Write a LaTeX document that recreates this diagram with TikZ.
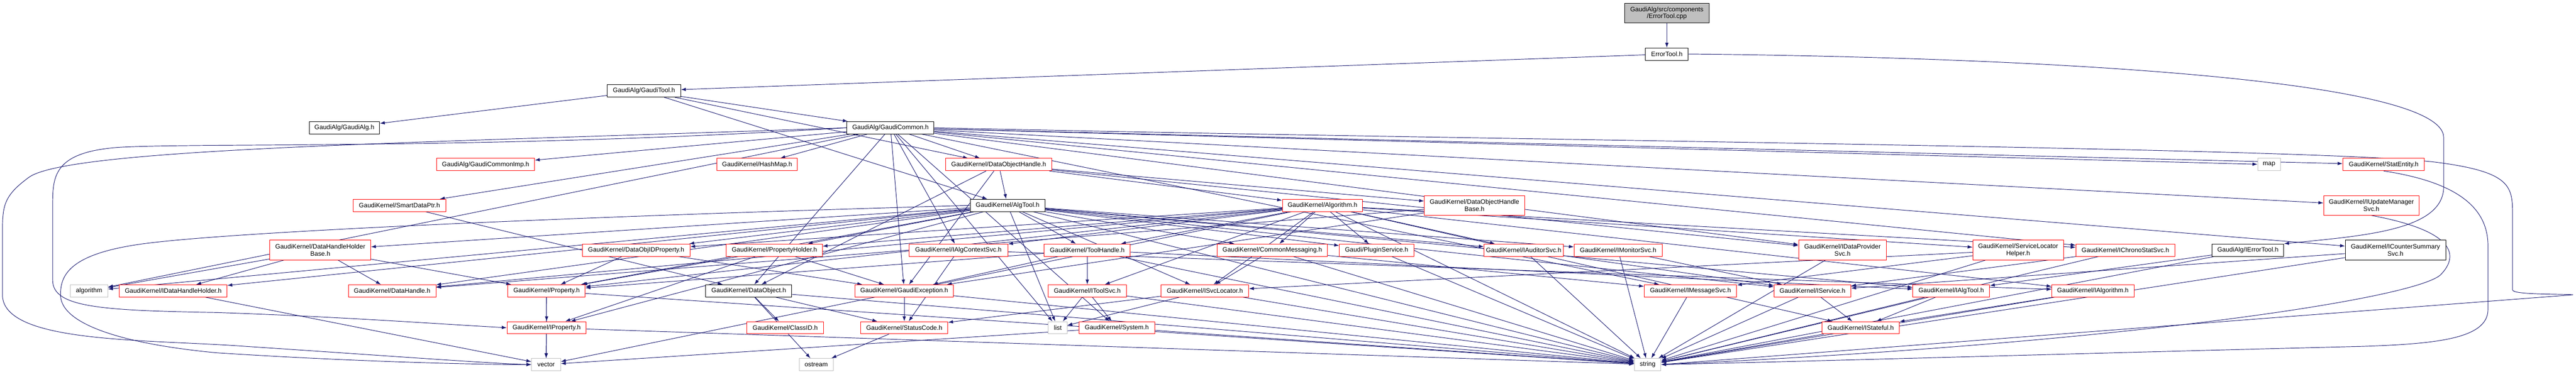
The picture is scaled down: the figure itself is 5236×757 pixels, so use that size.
\documentclass[tikz,border=0pt]{standalone}
\usepackage{fontspec}
\setmainfont{Liberation Sans}
\usepackage{tikz}
\usetikzlibrary{shapes,arrows.meta}

\definecolor{edgeblue}{HTML}{191970}
\definecolor{sysgray}{HTML}{BFBFBF}
\pgfdeclarelayer{background}
\pgfsetlayers{background,main}
\newcommand{\hdrfont}{\fontsize{13}{14.6}\selectfont}

\tikzset{
  hdr/.style={draw=red,fill=white,line width=1pt,font=\hdrfont,align=center,
    minimum height=25pt,inner xsep=4pt,inner ysep=0pt},
  blk/.style={hdr,draw=black},
  sys/.style={hdr,draw=sysgray},
  twoline/.style={minimum height=40pt},
  rootbox/.style={blk,fill=sysgray,twoline},
  edgeline/.style={draw=edgeblue,line width=1pt}
}

\begin{document}
\begin{tikzpicture}[x=1pt,y=-1pt,->,>={Latex[length=10pt,width=7pt]},
  every edge/.style={edgeline}
]
\useasboundingbox (0,0) rectangle (5236,757);

% top of the graph
\node[rootbox,minimum width=172pt] (root) at (3388,27) {GaudiAlg/src/components\\/ErrorTool.cpp};
\node[blk,minimum width=87pt] (errh) at (3388,110) {ErrorTool.h};
\node[blk,minimum width=149pt] (gtool) at (1309,185) {GaudiAlg/GaudiTool.h};
\node[blk,minimum width=143pt] (galg) at (700,260) {GaudiAlg/GaudiAlg.h};
\node[blk,minimum width=177pt] (gcom) at (1810,260) {GaudiAlg/GaudiCommon.h};

% row 5
\node[hdr,minimum width=199pt] (gcimp) at (987,335) {GaudiAlg/GaudiCommonImp.h};
\node[hdr,minimum width=164pt] (hashmap) at (1539,335) {GaudiKernel/HashMap.h};
\node[hdr,minimum width=215pt] (doh) at (2030,335) {GaudiKernel/DataObjectHandle.h};
\node[sys,minimum width=46pt] (map) at (4612,335) {map};
\node[hdr,minimum width=166pt] (statent) at (4845,335) {GaudiKernel/StatEntity.h};

% row 6
\node[hdr,minimum width=188pt] (smartptr) at (812,418) {GaudiKernel/SmartDataPtr.h};
\node[blk,minimum width=152pt] (algtool) at (2048,418) {GaudiKernel/AlgTool.h};
\node[hdr,minimum width=163pt] (algh) at (2688,418) {GaudiKernel/Algorithm.h};
\node[hdr,twoline,minimum width=204pt] (dohb) at (2997,418) {GaudiKernel/DataObjectHandle\\Base.h};
\node[hdr,twoline,minimum width=194pt] (iupd) at (4820,418) {GaudiKernel/IUpdateManager\\Svc.h};

% row 7
\node[hdr,twoline,minimum width=205pt] (dhhb) at (651,509) {GaudiKernel/DataHandleHolder\\Base.h};
\node[hdr,minimum width=219pt] (idop) at (1293,509) {GaudiKernel/DataObjIDProperty.h};
\node[hdr,minimum width=195pt] (propholder) at (1574,509) {GaudiKernel/PropertyHolder.h};
\node[hdr,minimum width=201pt] (iacs) at (1948,509) {GaudiKernel/IAlgContextSvc.h};
\node[hdr,minimum width=175pt] (toolhandle) at (2210,509) {GaudiKernel/ToolHandle.h};
\node[hdr,minimum width=225pt] (commsg) at (2586,509) {GaudiKernel/CommonMessaging.h};
\node[hdr,minimum width=151pt] (plugin) at (2798,509) {Gaudi/PluginService.h};
\node[hdr,minimum width=157pt] (iaud) at (3097,509) {GaudiKernel/IAuditorSvc.h};
\node[hdr,minimum width=179pt] (imon) at (3289,509) {GaudiKernel/IMonitorSvc.h};
\node[hdr,twoline,minimum width=178pt] (idps) at (3745,509) {GaudiKernel/IDataProvider\\Svc.h};
\node[hdr,twoline,minimum width=184pt] (slh) at (4102,509) {GaudiKernel/ServiceLocator\\Helper.h};
\node[hdr,minimum width=201pt] (ichrono) at (4320,509) {GaudiKernel/IChronoStatSvc.h};
\node[blk,minimum width=146pt] (ierr) at (4569,509) {GaudiAlg/IErrorTool.h};
\node[blk,twoline,minimum width=204pt] (icsum) at (4869,509) {GaudiKernel/ICounterSummary\\Svc.h};

% row 8
\node[sys,minimum width=76pt] (algo) at (181,592) {algorithm};
\node[hdr,minimum width=219pt] (idhh) at (352,592) {GaudiKernel/IDataHandleHolder.h};
\node[hdr,minimum width=178pt] (datahandle) at (797,592) {GaudiKernel/DataHandle.h};
\node[hdr,minimum width=157pt] (property) at (1111,592) {GaudiKernel/Property.h};
\node[blk,minimum width=175pt] (dataobj) at (1522,592) {GaudiKernel/DataObject.h};
\node[hdr,minimum width=200pt] (gexc) at (1838,592) {GaudiKernel/GaudiException.h};
\node[hdr,minimum width=160pt] (itoolsvc) at (2210,592) {GaudiKernel/IToolSvc.h};
\node[hdr,minimum width=178pt] (isvcloc) at (2449,592) {GaudiKernel/ISvcLocator.h};
\node[hdr,minimum width=188pt] (imsg) at (3436,592) {GaudiKernel/IMessageSvc.h};
\node[hdr,minimum width=156pt] (iservice) at (3684,592) {GaudiKernel/IService.h};
\node[hdr,minimum width=156pt] (ialgtool) at (3966,592) {GaudiKernel/IAlgTool.h};
\node[hdr,minimum width=167pt] (ialgo) at (4254,592) {GaudiKernel/IAlgorithm.h};

% row 9
\node[hdr,minimum width=161pt] (iprop) at (1111,667) {GaudiKernel/IProperty.h};
\node[hdr,minimum width=156pt] (classid) at (1596,667) {GaudiKernel/ClassID.h};
\node[hdr,minimum width=177pt] (statcode) at (1838,667) {GaudiKernel/StatusCode.h};
\node[sys,minimum width=38pt] (list) at (2150,667) {list};
\node[hdr,minimum width=154pt] (system) at (2270,667) {GaudiKernel/System.h};
\node[hdr,minimum width=157pt] (istateful) at (3782,667) {GaudiKernel/IStateful.h};

% bottom row
\node[sys,minimum width=59pt] (vector) at (1110,742) {vector};
\node[sys,minimum width=69pt] (ostream) at (1659,742) {ostream};
\node[sys,minimum width=54pt] (string) at (3349,742) {string};

\begin{pgfonlayer}{background}
\path (root) edge (errh);
\path (errh) edge (gtool);
\path (gtool) edge (galg) edge (gcom) edge (doh) edge (algtool);
\path (gcom) edge (gcimp) edge (hashmap) edge (doh) edge (smartptr) edge (map)
  edge (statent) edge (iupd) edge (iacs) edge (ichrono) edge (icsum) edge (idps)
  edge (imsg) edge (dataobj) edge (gexc) edge (system) edge (list) edge (algo);
\path (doh) edge (algtool) edge (algh) edge (dohb) edge (gexc) edge (dataobj) edge (idps);
\path (smartptr) edge (dataobj);
\path (algtool) edge (dhhb) edge (idop) edge (propholder) edge (toolhandle) edge (commsg)
  edge (plugin) edge (iaud) edge (imon) edge (idhh) edge (datahandle) edge (property)
  edge (ialgtool) edge (iservice) edge (isvcloc) edge (iprop) edge (list)
  edge (string) edge (algo);
\path (algh) edge (idop) edge (propholder) edge (iacs) edge (toolhandle) edge (commsg)
  edge (plugin) edge (iaud) edge (slh) edge (ichrono) edge (datahandle) edge (property)
  edge (itoolsvc) edge (isvcloc) edge (ialgo) edge (istateful) edge (string) edge (vector);
\path (dohb) edge (datahandle) edge (gexc);
\path (icsum) edge (iservice) edge (string);
\path (ierr) edge (ialgtool) edge (string);
\path (ichrono) edge (iservice) edge (string);
\path (slh) edge (imsg) edge (isvcloc) edge (string);
\path (idps) edge (string);
\path (imon) edge (iservice) edge (string);
\path (iaud) edge (iservice) edge (string);
\path (plugin) edge (string);
\path (commsg) edge (isvcloc) edge (imsg) edge (string);
\path (toolhandle) edge (itoolsvc) edge (ialgtool) edge (gexc) edge (property) edge (string);
\path (itoolsvc) edge (system) edge (list) edge (string);
\path (isvcloc) edge (statcode) edge (list) edge (string);
\path (iacs) edge (ialgo) edge (statcode);
\path (propholder) edge (property) edge (iprop) edge (gexc);
\path (idop) edge (property) edge (gexc);
\path (dhhb) edge (algo) edge (idhh) edge (datahandle) edge (property);
\path (idhh) edge (vector);
\path (property) edge (iprop) edge (string) edge (vector);
\path (dataobj) edge (classid) edge (ostream) edge (statcode) edge (string);
\path (gexc) edge (statcode) edge (string);
\path (imsg) edge (string);
\path (iservice) edge (istateful) edge (string);
\path (ialgtool) edge (istateful) edge (string);
\path (ialgo) edge (istateful) edge (string);
\path (system) edge (string) edge (vector);
\path (statcode) edge (ostream);
\path (istateful) edge (string);
\path (iprop) edge (vector) edge (string);

% long edges routed round the sides
\draw[edgeline] (errh.east) .. controls (4000,115) and (4967,150) .. (4967,280)
  -- (4967,380) .. controls (4967,470) and (4800,480) .. (ierr.north east);
\draw[edgeline] (gcom.west) .. controls (900,290) and (150,300) .. (60,360)
  .. controls (5,400) and (5,420) .. (5,480) -- (5,600)
  .. controls (5,700) and (300,690) .. (500,705)
  .. controls (800,725) and (1000,740) .. (vector.west);
\draw[edgeline] (gcom.west) .. controls (1000,305) and (400,290) .. (240,300)
  .. controls (107,310) and (107,360) .. (107,420) -- (107,570)
  .. controls (107,625) and (200,632) .. (440,636)
  .. controls (700,645) and (900,660) .. (iprop.west);
\draw[edgeline] (algtool.west) .. controls (1200,440) and (500,470) .. (300,495)
  .. controls (140,515) and (123,560) .. (123,600)
  .. controls (123,660) and (250,700) .. (440,718)
  .. controls (700,735) and (950,742) .. (vector.west);
\draw[edgeline] (gcom.east) .. controls (3000,285) and (4700,300) .. (4950,330)
  .. controls (5107,350) and (5107,380) .. (5107,440) -- (5107,590)
  .. controls (5107,600) and (5200,598) .. (5230,600) -- (string.east);
\draw[edgeline] (statent.south) .. controls (4990,370) and (5057,420) .. (5057,500)
  -- (5057,630) .. controls (5057,690) and (4950,700) .. (4800,705)
  .. controls (4200,720) and (3700,735) .. (string.east);
\draw[edgeline] (iupd.south) .. controls (4990,470) and (5000,520) .. (4960,560)
  .. controls (4900,610) and (4300,700) .. (string.east);
\end{pgfonlayer}
\end{tikzpicture}
\end{document}
